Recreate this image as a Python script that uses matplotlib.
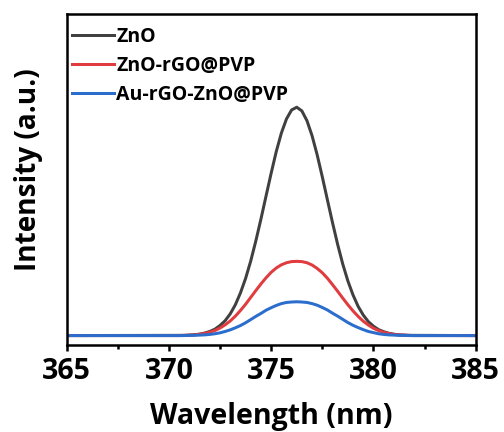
import matplotlib.pyplot as plt
from matplotlib.ticker import MultipleLocator

# wavelength samples (nm)
wavelength = [365.0,
              370.5, 370.75, 371.0, 371.25, 371.5, 371.75, 372.0, 372.25,
              372.5, 372.75, 373.0, 373.25, 373.5, 373.75, 374.0, 374.25,
              374.5, 374.75, 375.0, 375.25, 375.5, 375.75, 376.0, 376.25,
              376.5, 376.75, 377.0, 377.25, 377.5, 377.75, 378.0, 378.25,
              378.5, 378.75, 379.0, 379.25, 379.5, 379.75, 380.0, 380.25,
              380.5, 380.75, 381.0, 381.25, 381.5, 381.75, 382.0,
              385.0]

zno = [0.0,
       0.001, 0.001, 0.002, 0.004, 0.006, 0.011, 0.018, 0.028,
       0.044, 0.065, 0.095, 0.135, 0.187, 0.250, 0.326, 0.414,
       0.510, 0.611, 0.711, 0.806, 0.887, 0.949, 0.988, 1.000,
       0.984, 0.941, 0.875, 0.791, 0.695, 0.594, 0.494, 0.399,
       0.313, 0.239, 0.178, 0.128, 0.090, 0.061, 0.041, 0.026,
       0.017, 0.010, 0.006, 0.003, 0.002, 0.001, 0.001,
       0.0]

zno_rgo = [0.0,
           0.000, 0.001, 0.002, 0.003, 0.006, 0.009, 0.015, 0.022,
           0.033, 0.047, 0.064, 0.085, 0.110, 0.137, 0.167, 0.197,
           0.226, 0.253, 0.277, 0.296, 0.310, 0.319, 0.324, 0.325,
           0.324, 0.319, 0.309, 0.294, 0.275, 0.251, 0.223, 0.194,
           0.164, 0.135, 0.108, 0.084, 0.063, 0.046, 0.032, 0.022,
           0.014, 0.009, 0.005, 0.003, 0.002, 0.001, 0.000,
           0.0]

au_rgo = [0.0,
          0.000, 0.000, 0.001, 0.001, 0.002, 0.003, 0.005, 0.008,
          0.012, 0.018, 0.025, 0.034, 0.044, 0.056, 0.070, 0.084,
          0.097, 0.111, 0.122, 0.132, 0.140, 0.145, 0.147, 0.148,
          0.147, 0.145, 0.140, 0.133, 0.123, 0.112, 0.098, 0.085,
          0.071, 0.057, 0.045, 0.035, 0.026, 0.018, 0.013, 0.008,
          0.005, 0.003, 0.002, 0.001, 0.001, 0.000, 0.000,
          0.0]

labels = ["ZnO", "ZnO-rGO@PVP", "Au-rGO-ZnO@PVP"]
colors = ["#404040", "#e03c3f", "#2a6dcc"]

plt.rcParams['font.family'] = ['Open Sans', 'DejaVu Sans']
plt.rcParams['font.weight'] = 'bold'

fig = plt.figure(figsize=(7, 6), dpi=72)
ax = fig.add_axes([0.132, 0.201, 0.812, 0.767])

for ys, lab, c in zip([zno, zno_rgo, au_rgo], labels, colors):
    ax.plot(wavelength, ys, color=c, lw=3, label=lab)

ax.set_xlim(365, 385)
ax.set_ylim(-0.042, 1.409)
ax.xaxis.set_major_locator(MultipleLocator(5))
ax.xaxis.set_minor_locator(MultipleLocator(2.5))
ax.set_yticks([])

for s in ax.spines.values():
    s.set_linewidth(2.5)
ax.tick_params(axis='x', which='major', direction='out', length=6, width=2.5,
               labelsize=28.5, pad=6)
ax.tick_params(axis='x', which='minor', direction='out', length=4, width=2.5)

ax.set_xlabel("Wavelength (nm)", fontsize=28.5, fontweight='bold', labelpad=16)
ax.set_ylabel("Intensity (a.u.)", fontsize=28, fontweight='bold')
ax.yaxis.set_label_coords(-0.057, 0.53)

leg = ax.legend(loc='upper left', bbox_to_anchor=(-0.005, 0.985), frameon=False,
                fontsize=19.5, handlelength=2.15, handletextpad=0.1,
                labelspacing=0.48, borderaxespad=0.0)
for t in leg.get_texts():
    t.set_fontweight('bold')

fig.savefig("out.png", dpi=72)
